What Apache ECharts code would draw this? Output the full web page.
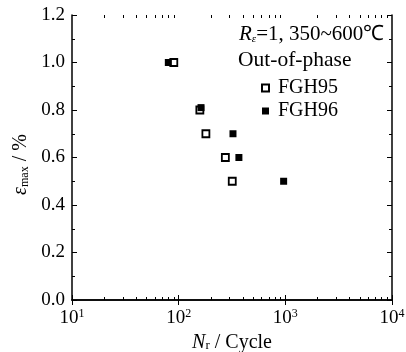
<!DOCTYPE html>
<html><head><meta charset="utf-8">
<script src="https://cdn.jsdelivr.net/npm/echarts@6/dist/echarts.min.js"></script>
<style>html,body{margin:0;padding:0;background:#fff}#c{width:406px;height:352px}</style>
</head><body><div id="c"></div>
<script>
// Data
const xMajorTicks = [10, 100, 1000, 10000];
const xMinorTicks = [20,30,40,50,60,70,80,90,200,300,400,500,600,700,800,900,2000,3000,4000,5000,6000,7000,8000,9000];
const yTickLabels = ['0.0','0.2','0.4','0.6','0.8','1.0','1.2'];
const seriesNames = ['FGH95', 'FGH96'];
const fgh95Cycles = [90, 158, 180, 274, 318];
const fgh95Strain = [1.00, 0.80, 0.70, 0.60, 0.50];
const fgh96Cycles = [80, 162, 323, 367, 964];
const fgh96Strain = [1.00, 0.81, 0.70, 0.60, 0.50];

const FONT = 'Liberation Serif';
const pairs = (xs, ys) => xs.map((x, i) => [x, ys[i]]);
const logMinor = xMinorTicks.map(v => Math.log10(v));

const chart = echarts.init(document.getElementById('c'), null, {renderer: 'canvas'});
const axisLine = {show: true, lineStyle: {color: '#000', width: 1.5}};
const tickStyle = {color: '#000', width: 1};
const gridBox = {left: 72, right: 14, top: 15, bottom: 52, outerBoundsMode: 'none', containLabel: false};
const supRich = {
  b: {fontFamily: FONT, fontSize: 19, color: '#000'},
  s: {fontFamily: FONT, fontSize: 12, color: '#000', verticalAlign: 'top', padding: [0,0,8,0]}
};
const minorAxis = pos => ({
  gridIndex: 1, type: 'value', min: 1, max: 4, position: pos,
  axisLine: {show: false}, splitLine: {show: false},
  axisTick: {show: true, inside: true, length: 3, customValues: logMinor, lineStyle: tickStyle},
  axisLabel: {show: false}
});
const option = {
  animation: false,
  backgroundColor: '#fff',
  textStyle: {fontFamily: FONT},
  grid: [Object.assign({}, gridBox), Object.assign({}, gridBox)],
  xAxis: [
    {
      gridIndex: 0, type: 'log', logBase: 10, min: 10, max: 10000, position: 'bottom',
      axisLine, splitLine: {show: false},
      axisTick: {show: true, inside: true, length: 5, lineStyle: tickStyle},
      minorTick: {show: false},
      axisLabel: {
        margin: 8,
        formatter: v => '{b|10}{s|' + Math.round(Math.log10(v)) + '}',
        rich: supRich
      },
      name: '{i|N}{r|r}{n| / Cycle}',
      nameLocation: 'middle', nameGap: 30,
      nameTextStyle: {
        rich: {
          i: {fontFamily: FONT, fontSize: 20, fontStyle: 'italic', color: '#000'},
          r: {fontFamily: FONT, fontSize: 13, color: '#000', verticalAlign: 'bottom', padding: [6,0,0,0]},
          n: {fontFamily: FONT, fontSize: 20, color: '#000'}
        }
      }
    },
    {
      gridIndex: 0, type: 'log', logBase: 10, min: 10, max: 10000, position: 'top',
      axisLine, splitLine: {show: false},
      axisTick: {show: true, inside: true, length: 5, lineStyle: tickStyle},
      axisLabel: {show: false}
    },
    minorAxis('bottom'),
    minorAxis('top')
  ],
  yAxis: [
    {
      gridIndex: 0, type: 'value', min: 0, max: 1.2, interval: 0.2, position: 'left',
      axisLine, splitLine: {show: false},
      axisTick: {show: true, inside: true, length: 5, lineStyle: tickStyle},
      minorTick: {show: true, splitNumber: 2, length: 3, lineStyle: tickStyle},
      axisLabel: {
        margin: 7, fontFamily: FONT, fontSize: 19, color: '#000',
        formatter: v => yTickLabels[Math.round(v / 0.2)]
      },
      name: '{e|ε}{m|max}{n| / %}',
      nameLocation: 'middle', nameGap: 38, nameRotate: 90,
      nameTextStyle: {
        padding: [0, 14, 0, 0],
        rich: {
          e: {fontFamily: FONT, fontSize: 20, fontStyle: 'italic', color: '#000'},
          m: {fontFamily: FONT, fontSize: 12, color: '#000', verticalAlign: 'bottom', padding: [7,0,0,0]},
          n: {fontFamily: FONT, fontSize: 20, color: '#000'}
        }
      }
    },
    {
      gridIndex: 0, type: 'value', min: 0, max: 1.2, interval: 0.2, position: 'right',
      axisLine, splitLine: {show: false},
      axisTick: {show: true, inside: true, length: 5, lineStyle: tickStyle},
      minorTick: {show: true, splitNumber: 2, length: 3, lineStyle: tickStyle},
      axisLabel: {show: false}
    },
    {
      gridIndex: 1, type: 'value', min: 0, max: 1.2, show: false
    }
  ],
  legend: {
    orient: 'vertical', left: 256, top: 73, itemWidth: 7, itemHeight: 7, itemGap: 3,
    data: seriesNames,
    textStyle: {fontFamily: FONT, fontSize: 20, color: '#000', padding: [0,0,0,4], lineHeight: 20}
  },
  graphic: [
    {
      type: 'text', left: 239, top: 24,
      style: {
        text: '{r|R}{e|ε}{n|=1, 350~600℃}',
        rich: {
          r: {fontFamily: FONT, fontSize: 21, fontStyle: 'italic', fill: '#000'},
          e: {fontFamily: FONT, fontSize: 11, fontStyle: 'italic', fill: '#000', verticalAlign: 'bottom', padding: [8,0,0,0]},
          n: {fontFamily: FONT, fontSize: 21, fill: '#000'}
        }
      }
    },
    {
      type: 'text', left: 238, top: 49,
      style: {text: 'Out-of-phase', fontFamily: FONT, fontSize: 21.5, fill: '#000'}
    }
  ],
  series: [
    {
      name: seriesNames[0], type: 'scatter', symbol: 'rect', symbolSize: 7,
      xAxisIndex: 0, yAxisIndex: 0,
      itemStyle: {color: '#fff', borderColor: '#000', borderWidth: 1.8, opacity: 1},
      data: pairs(fgh95Cycles, fgh95Strain), z: 3
    },
    {
      name: seriesNames[1], type: 'scatter', symbol: 'rect', symbolSize: 7,
      xAxisIndex: 0, yAxisIndex: 0,
      itemStyle: {color: '#000', opacity: 1},
      data: pairs(fgh96Cycles, fgh96Strain), z: 4
    }
  ]
};
chart.setOption(option);
</script>
</body></html>
